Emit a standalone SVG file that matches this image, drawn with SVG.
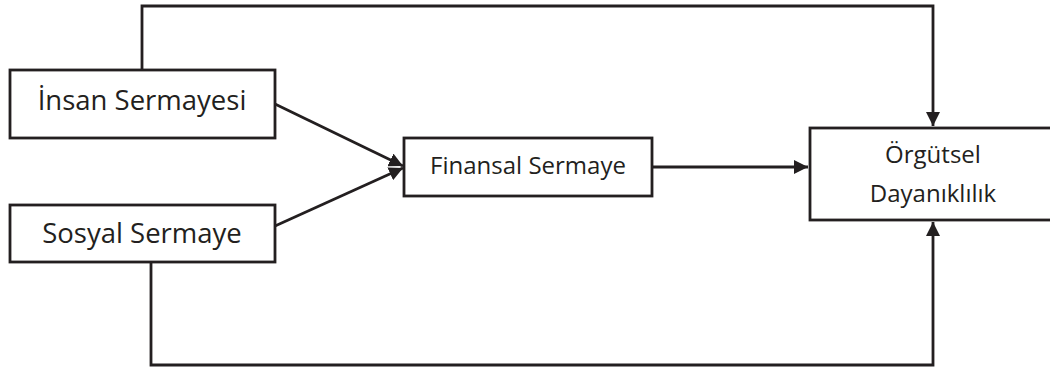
<svg xmlns="http://www.w3.org/2000/svg" width="1050" height="372" viewBox="0 0 1050 372">
<defs>
<style>
.box{fill:#fff;stroke:#231f20;stroke-width:2.8}
.ln{fill:none;stroke:#231f20;stroke-width:2.8}
.t{font-family:"Open Sans","Noto Sans",sans-serif;fill:#231f20;text-anchor:middle}
</style>
<marker id="ah" viewBox="0 0 10 10" refX="10" refY="5" markerWidth="14" markerHeight="14" markerUnits="userSpaceOnUse" orient="auto">
<path d="M0,0 L10,5 L0,10 Z" fill="#231f20"/>
</marker>
</defs>
<g id="connectors">
<path class="ln" d="M142,70 V6 H933 V126" marker-end="url(#ah)"/>
<path class="ln" d="M151,262 V365 H933 V222" marker-end="url(#ah)"/>
<path class="ln" d="M275,104 L403,166" marker-end="url(#ah)"/>
<path class="ln" d="M275,226 L403,168" marker-end="url(#ah)"/>
<path class="ln" d="M652,167 H808" marker-end="url(#ah)"/>
</g>
<g id="insan">
<rect class="box" x="10" y="70" width="265" height="68"/>
<text class="t" x="142" y="110" font-size="27.5">İnsan Sermayesi</text>
</g>
<g id="sosyal">
<rect class="box" x="10" y="205" width="265" height="57"/>
<text class="t" x="142" y="243" font-size="27.5">Sosyal Sermaye</text>
</g>
<g id="finansal">
<rect class="box" x="404" y="138" width="248" height="58"/>
<text class="t" x="528" y="174" font-size="24">Finansal Sermaye</text>
</g>
<g id="orgutsel">
<rect class="box" x="810" y="128" width="245" height="92"/>
<text class="t" x="933" y="163" font-size="24">Örgütsel</text>
<text class="t" x="933" y="202" font-size="24">Dayanıklılık</text>
</g>
</svg>
